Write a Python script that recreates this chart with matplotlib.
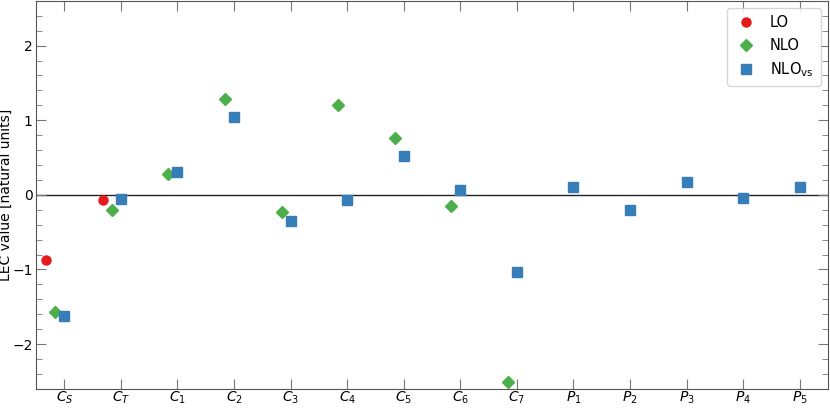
import matplotlib
matplotlib.use("Agg")
import matplotlib.pyplot as plt
import numpy as np

labels = [r'$C_S$', r'$C_T$', r'$C_1$', r'$C_2$', r'$C_3$', r'$C_4$', r'$C_5$',
          r'$C_6$', r'$C_7$', r'$P_1$', r'$P_2$', r'$P_3$', r'$P_4$', r'$P_5$']
lo_vals = [-0.88, -0.07]
nlo_vals = [-1.57, -0.21, 0.28, 1.28, -0.23, 1.20, 0.76, -0.15, -2.51]
nlovs_vals = [-1.63, -0.05, 0.31, 1.04, -0.35, -0.07, 0.52, 0.07, -1.04,
              0.11, -0.21, 0.17, -0.04, 0.11]

fig = plt.figure(figsize=(8.3, 4.08), dpi=100)
ax = fig.add_axes([0.0434, 0.047, 0.9542, 0.951])

x = np.arange(len(labels))
ax.axhline(0, color='#222222', lw=1.0, zorder=1)
ax.plot(x[:len(lo_vals)] - 0.32, lo_vals, 'o', color='#e41a1c', ms=6.5, ls='none', label='LO', zorder=3)
ax.plot(x[:len(nlo_vals)] - 0.16, nlo_vals, 'D', color='#4daf4a', ms=6.5, ls='none', label='NLO', zorder=3)
ax.plot(x, nlovs_vals, 's', color='#377eb8', ms=6.5, ls='none', label=r'NLO$_{\mathrm{vs}}$', zorder=3)

ax.set_xlim(-0.5, 13.5)
ax.set_ylim(-2.6, 2.6)
ax.set_xticks(x)
ax.set_xticklabels(labels)
ax.set_yticks([-2, -1, 0, 1, 2])
ax.set_yticks(np.arange(-2.6, 2.61, 0.2), minor=True)
ax.tick_params(axis='both', which='both', direction='in', top=True, right=True, colors='#777777', labelcolor='black', labelsize=10)
ax.tick_params(axis='both', which='major', length=7)
ax.tick_params(axis='y', which='minor', length=4)
ax.tick_params(axis='y', pad=2.5)
ax.tick_params(axis='x', which='minor', bottom=False, top=False)
ax.tick_params(axis='x', labelsize=10, pad=0.5)
for s in ax.spines.values():
    s.set_color('#555555')
ax.set_ylabel('LEC value [natural units]', fontsize=10)
ax.yaxis.set_label_coords(-0.0295, 0.5)

ax.legend(loc='upper right', fontsize=10.5, frameon=True, borderpad=0.5, handletextpad=0.8,
          handlelength=1.6, labelspacing=0.5, borderaxespad=0.5)

plt.savefig('out.png', dpi=100)
